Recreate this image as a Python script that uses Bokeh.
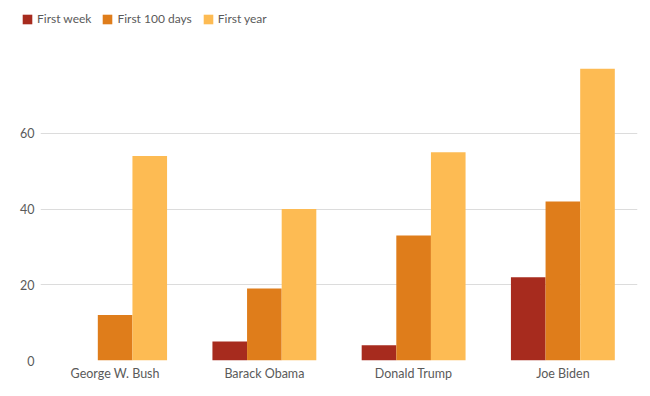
from bokeh.plotting import figure
from bokeh.models import ColumnDataSource, FactorRange, FixedTicker, Legend, LegendItem
from bokeh.layouts import column, row
from bokeh.transform import dodge
from bokeh.embed import file_html
from bokeh.resources import INLINE

presidents = ["George W. Bush", "Barack Obama", "Donald Trump", "Joe Biden"]
first_week = [0, 5, 4, 22]
first_100_days = [12, 19, 33, 42]
first_year = [54, 40, 55, 77]
series_names = ["First week", "First 100 days", "First year"]
colors = ["#A72B1E", "#DF7D1B", "#FDBB53"]
y_ticks = [0, 20, 40, 60]

src = ColumnDataSource(dict(x=presidents, w=first_week, d=first_100_days, y=first_year))

FONT = "Lato"
TXT = "#5A5A5A"

p = figure(x_range=FactorRange(*presidents, range_padding=0), y_range=(0, 80),
           width=642, height=340, output_backend="svg", toolbar_location=None,
           min_border_left=40, min_border_right=5, min_border_top=9, min_border_bottom=28)

bw = 0.232
p.vbar(x=dodge("x", -bw, range=p.x_range), top="w", width=bw, source=src, color=colors[0], line_color=None)
p.vbar(x=dodge("x", 0, range=p.x_range), top="d", width=bw, source=src, color=colors[1], line_color=None)
p.vbar(x=dodge("x", bw, range=p.x_range), top="y", width=bw, source=src, color=colors[2], line_color=None)

p.outline_line_color = None
p.xgrid.grid_line_color = None
p.ygrid.grid_line_color = "#DCDCDC"
p.yaxis.ticker = FixedTicker(ticks=y_ticks)
for ax in (p.xaxis, p.yaxis):
    ax.axis_line_color = None
    ax.major_tick_line_color = None
    ax.minor_tick_line_color = None
    ax.major_tick_out = 0
    ax.major_tick_in = 0
    ax.minor_tick_out = 0
    ax.minor_tick_in = 0
    ax.major_label_text_font = FONT
    ax.major_label_text_font_size = "12.5px"
    ax.major_label_text_color = TXT
p.xaxis.major_label_standoff = 5
p.yaxis.major_label_standoff = 6

# legend strip above the chart
lg = figure(width=642, height=48, output_backend="svg", toolbar_location=None,
            x_axis_location=None, y_axis_location=None,
            min_border_left=0, min_border_right=0, min_border_top=0, min_border_bottom=0,
            x_range=(0, 1), y_range=(0, 1))
lg.outline_line_color = None
lg.xgrid.visible = False
lg.ygrid.visible = False
legend_src = ColumnDataSource(dict(x=[0.5], top=[0]))
rs = [lg.vbar(x="x", top="top", width=0.1, source=legend_src, color=c, line_color=None) for c in colors]
legend = Legend(items=[LegendItem(label=n, renderers=[r]) for n, r in zip(series_names, rs)],
                orientation="horizontal", location=(21, 22),
                label_text_font=FONT, label_text_font_size="12px", label_text_color=TXT,
                glyph_width=12, glyph_height=12, label_standoff=4, spacing=10,
                padding=0, margin=0, background_fill_alpha=0, border_line_color=None)
lg.add_layout(legend, "center")

layout = column(row(lg), p, spacing=0)
open("out.html", "w").write(file_html(layout, INLINE))
